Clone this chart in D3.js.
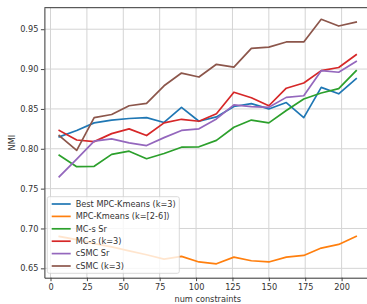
<!DOCTYPE html>
<html>
<head>
<meta charset="utf-8">
<script src="https://cdn.jsdelivr.net/npm/d3@7"></script>
<style>
  body { margin: 0; background: #fff; }
  text { font-family: "DejaVu Sans", sans-serif; }
</style>
</head>
<body>
<div id="chart"></div>
<script>
// data
const constraints = [6, 18, 30, 42, 54, 66, 78, 90, 102, 114, 126, 138, 150, 162, 174, 186, 198, 210];
const bestMpc = [0.815, 0.823, 0.8325, 0.836, 0.838, 0.839, 0.833, 0.852, 0.8345, 0.840, 0.853, 0.8566, 0.850, 0.858, 0.839, 0.877, 0.869, 0.888];
const mpcRange = [0.690, 0.686, 0.681, 0.677, 0.672, 0.667, 0.6616, 0.665, 0.658, 0.6557, 0.6641, 0.6595, 0.658, 0.6641, 0.6662, 0.6754, 0.680, 0.690];
const mcsSr = [0.792, 0.7775, 0.778, 0.793, 0.797, 0.7875, 0.794, 0.802, 0.8025, 0.8105, 0.827, 0.836, 0.8325, 0.848, 0.8625, 0.870, 0.8754, 0.898];
const mcsK3 = [0.823, 0.811, 0.809, 0.819, 0.825, 0.8166, 0.8325, 0.837, 0.8345, 0.844, 0.871, 0.864, 0.854, 0.876, 0.8825, 0.898, 0.902, 0.918];
const csmcSr = [0.765, 0.787, 0.8095, 0.8125, 0.8075, 0.804, 0.814, 0.823, 0.825, 0.8375, 0.855, 0.853, 0.852, 0.8645, 0.8665, 0.898, 0.896, 0.9095];
const csmcK3 = [0.8166, 0.798, 0.839, 0.843, 0.854, 0.857, 0.879, 0.895, 0.890, 0.906, 0.9025, 0.926, 0.9275, 0.934, 0.934, 0.9625, 0.954, 0.959];
const seriesNames = ['Best MPC-Kmeans (k=3)', 'MPC-Kmeans (k=[2-6])', 'MC-s Sr', 'MC-s (k=3)', 'cSMC Sr', 'cSMC (k=3)'];
const xTicks = [0, 25, 50, 75, 100, 125, 150, 175, 200];
const yTicks = [0.65, 0.70, 0.75, 0.80, 0.85, 0.90, 0.95];

const colors = ['#1f77b4', '#ff7f0e', '#2ca02c', '#d62728', '#9467bd', '#8c564b'];
const allSeries = [bestMpc, mpcRange, mcsSr, mcsK3, csmcSr, csmcK3];

const width = 367, height = 304;
const plot = { left: 44.4, right: 371, top: 7.7, bottom: 277.7 };

const svg = d3.select('#chart').append('svg')
  .attr('width', width)
  .attr('height', height);

const x = d3.scaleLinear().domain([-4.2, 220.2]).range([plot.left, plot.right]);
const y = d3.scaleLinear().domain([0.63825, 0.977]).range([plot.bottom, plot.top]);

// grid
svg.append('g')
  .selectAll('line.vx')
  .data(xTicks)
  .enter().append('line')
  .attr('x1', d => x(d)).attr('x2', d => x(d))
  .attr('y1', plot.top).attr('y2', plot.bottom)
  .attr('stroke', '#d4d4d4').attr('stroke-width', 1);
svg.append('g')
  .selectAll('line.hy')
  .data(yTicks)
  .enter().append('line')
  .attr('x1', plot.left).attr('x2', plot.right)
  .attr('y1', d => y(d)).attr('y2', d => y(d))
  .attr('stroke', '#d4d4d4').attr('stroke-width', 1);

// axes
const xAxis = svg.append('g')
  .attr('transform', `translate(0,${plot.bottom})`)
  .call(d3.axisBottom(x).tickValues(xTicks).tickSize(3.5).tickPadding(2.5).tickSizeOuter(0));
const yAxis = svg.append('g')
  .attr('transform', `translate(${plot.left},0)`)
  .call(d3.axisLeft(y).tickValues(yTicks).tickFormat(d3.format('.2f')).tickSize(3.5).tickPadding(2.5).tickSizeOuter(0));
[xAxis, yAxis].forEach(g => {
  g.selectAll('text').attr('font-size', '8.2px').attr('fill', '#333').attr('font-family', 'DejaVu Sans');
  g.selectAll('line').attr('stroke', '#444');
  g.select('.domain').attr('stroke', '#333').attr('stroke-width', 1);
});

// top spine
svg.append('line')
  .attr('x1', plot.left).attr('x2', plot.right)
  .attr('y1', plot.top).attr('y2', plot.top)
  .attr('stroke', '#333').attr('stroke-width', 1);

// lines
const line = d3.line()
  .x((d, i) => x(constraints[i]))
  .y(d => y(d));

allSeries.forEach((s, k) => {
  svg.append('path')
    .datum(s)
    .attr('d', line)
    .attr('fill', 'none')
    .attr('stroke', colors[k])
    .attr('stroke-width', 1.7)
    .attr('stroke-linejoin', 'round')
    .attr('stroke-linecap', 'square');
});

// axis labels
svg.append('text')
  .attr('x', (plot.left + plot.right) / 2)
  .attr('y', 301.5)
  .attr('text-anchor', 'middle')
  .attr('font-size', '8.2px')
  .attr('fill', '#333')
  .text('num constraints');
svg.append('text')
  .attr('transform', `translate(14.5,${(plot.top + plot.bottom) / 2}) rotate(-90)`)
  .attr('text-anchor', 'middle')
  .attr('font-size', '8.2px')
  .attr('fill', '#333')
  .text('NMI');

// legend
const legend = svg.append('g');
legend.append('rect')
  .attr('x', 47.3).attr('y', 196.7)
  .attr('width', 132).attr('height', 76.6)
  .attr('rx', 2)
  .attr('fill', '#fff').attr('fill-opacity', 0.8)
  .attr('stroke', '#d0d0d0').attr('stroke-width', 0.8);

const rows = legend.selectAll('g.row')
  .data(seriesNames)
  .enter().append('g')
  .attr('transform', (d, i) => `translate(0,${204 + i * 12.4})`);
rows.append('line')
  .attr('x1', 51.7).attr('x2', 70.7)
  .attr('stroke', (d, i) => colors[i])
  .attr('stroke-width', 1.7);
rows.append('text')
  .attr('x', 75.7)
  .attr('dy', '0.35em')
  .attr('font-size', '8.2px')
  .attr('fill', '#333')
  .text(d => d);
</script>
</body>
</html>
